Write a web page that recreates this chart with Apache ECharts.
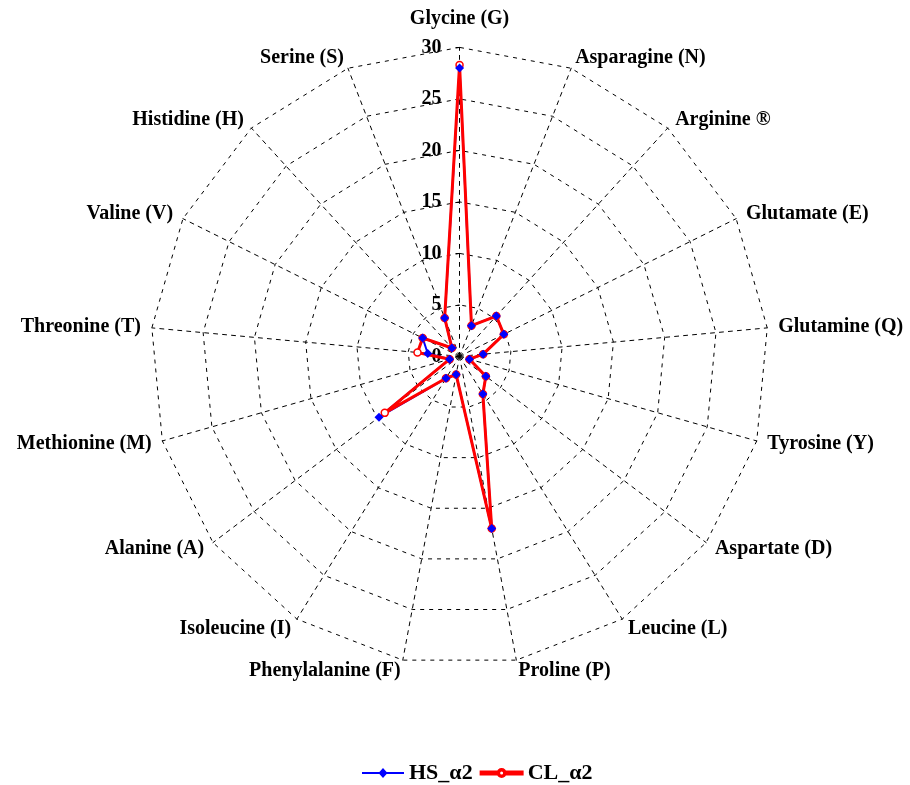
<!DOCTYPE html>
<html>
<head>
<meta charset="utf-8">
<script src="https://cdn.jsdelivr.net/npm/echarts@6/dist/echarts.min.js"></script>
<style>
  html, body { margin: 0; padding: 0; background: #fff; }
  #chart { width: 910px; height: 785px; }
</style>
</head>
<body>
<div id="chart"></div>
<script>
// amino acids, clockwise from the top
var categories = ['Glycine (G)', 'Asparagine (N)', 'Arginine \u00AE', 'Glutamate (E)', 'Glutamine (Q)',
    'Tyrosine (Y)', 'Aspartate (D)', 'Leucine (L)', 'Proline (P)', 'Phenylalanine (F)',
    'Isoleucine (I)', 'Alanine (A)', 'Methionine (M)', 'Threonine (T)', 'Valine (V)',
    'Histidine (H)', 'Serine (S)'];
var hsValues = [28.0, 3.2, 5.3, 4.8, 2.3, 1.0, 3.2, 4.3, 17.0, 1.8, 2.5, 9.8, 1.0, 3.1, 4.0, 1.1, 4.0];
var clValues = [28.3, 3.2, 5.3, 4.8, 2.3, 1.0, 3.2, 4.3, 17.0, 1.8, 2.5, 9.1, 1.0, 4.1, 4.0, 1.1, 4.0];
var tickLabels = ['0', '5', '10', '15', '20', '25', '30'];
var axisMax = 30;

// echarts radar goes counter-clockwise, so keep the first item and reverse the rest
function clockwise(arr){
    return [arr[0]].concat(arr.slice(1).reverse());
}

var font = 'Liberation Serif, Times New Roman, serif';
var dash = [4, 5];

var indicator = clockwise(categories).map(function(name, i){
    var ind = { name: name, min: 0, max: axisMax };
    if (i === 0) {
        // only the top axis carries tick labels
        ind.axisLabel = {
            show: true,
            color: '#000',
            fontFamily: font,
            fontWeight: 'bold',
            fontSize: 20,
            margin: 18,
            formatter: function(v){ return tickLabels[Math.round(v / 5)]; }
        };
        ind.axisTick = { show: true, length: 4, lineStyle: { color: '#000' } };
    }
    return ind;
});

// legend icons: line with marker
var hsIcon = 'path://M0 4H42V6H0Z M21 0L25.5 5L21 10L16.5 5Z';
var clIcon = 'path://M0 2.5H18V5.5H0Z M24 2.5H42V5.5H24Z M17 4A4 4 0 1 1 25 4A4 4 0 1 1 17 4Z M18.5 4A2.5 2.5 0 1 0 23.5 4A2.5 2.5 0 1 0 18.5 4Z';

var myChart = echarts.init(document.getElementById('chart'));
var option = {
    backgroundColor: '#fff',
    animation: false,
    legend: {
        top: 757,
        left: 357,
        itemWidth: 42,
        itemHeight: 10,
        itemGap: 7,
        symbolKeepAspect: true,
        textStyle: { color: '#000', fontFamily: font, fontWeight: 'bold', fontSize: 22 },
        data: [
            { name: 'HS_\u03B12', icon: hsIcon, itemStyle: { color: '#0000ff' } },
            { name: 'CL_\u03B12', icon: clIcon, itemStyle: { color: '#ff0000' } }
        ]
    },
    radar: {
        center: ['50.5%', '45.4%'],
        radius: 309,
        startAngle: 90,
        shape: 'polygon',
        splitNumber: 6,
        nameGap: 11,
        axisName: {
            color: '#000', fontFamily: font, fontWeight: 'bold', fontSize: 20,
            formatter: function(name){
                return name === categories[0] ? '{top|' + name + '}' : name;
            },
            rich: {
                top: { color: '#000', fontFamily: font, fontWeight: 'bold', fontSize: 20, padding: [0, 0, 8, 0] }
            }
        },
        axisLine: { lineStyle: { color: '#000', width: 1, type: dash } },
        splitLine: { lineStyle: { color: '#000', width: 1, type: dash } },
        splitArea: { show: false },
        axisTick: { show: false },
        axisLabel: { show: false },
        indicator: indicator
    },
    series: [
        {
            name: 'HS_\u03B12',
            type: 'radar',
            z: 2,
            symbol: 'none',
            lineStyle: { color: '#0000ff', width: 2 },
            itemStyle: { color: '#0000ff' },
            data: [{ value: clockwise(hsValues), name: 'HS_\u03B12' }]
        },
        {
            name: 'CL_\u03B12',
            type: 'radar',
            z: 3,
            symbol: 'circle',
            symbolSize: 7,
            lineStyle: { color: '#ff0000', width: 3 },
            itemStyle: { color: '#fff', borderColor: '#ff0000', borderWidth: 1.5 },
            data: [{ value: clockwise(clValues), name: 'CL_\u03B12' }]
        },
        {
            // blue markers drawn above the red line
            name: 'HS_\u03B12',
            type: 'radar',
            z: 4,
            symbol: 'diamond',
            symbolSize: 9,
            lineStyle: { width: 0, opacity: 0 },
            itemStyle: { color: '#0000ff' },
            data: [{ value: clockwise(hsValues), name: 'HS_\u03B12' }]
        }
    ]
};
myChart.setOption(option);
</script>
</body>
</html>
